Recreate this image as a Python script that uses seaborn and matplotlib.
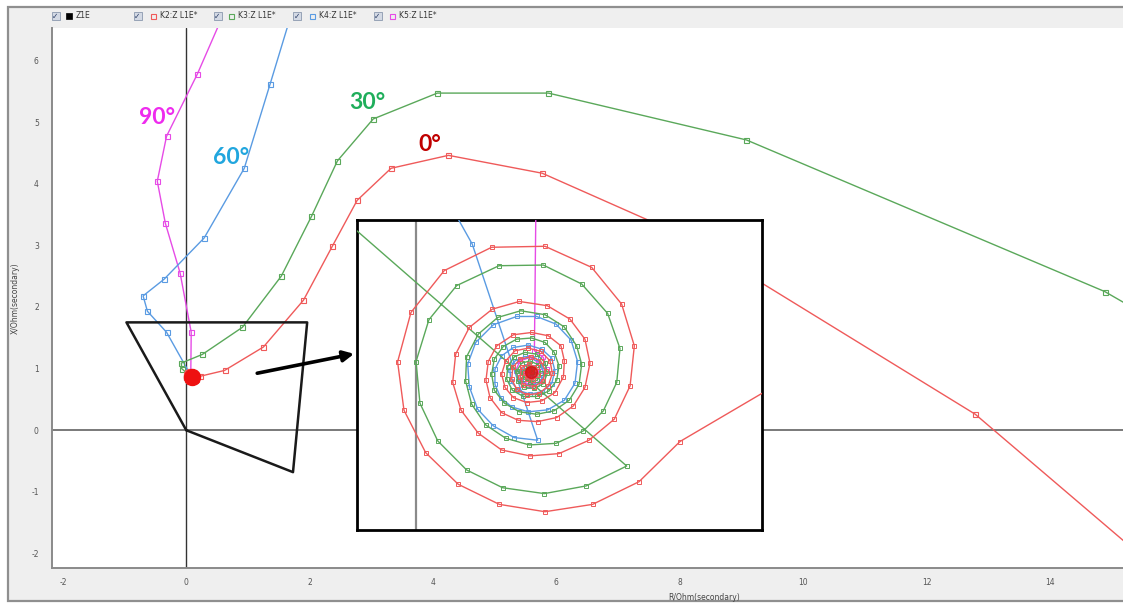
import matplotlib
matplotlib.use("Agg")
import matplotlib.pyplot as plt
from matplotlib.patches import Rectangle
import seaborn as sns

# ---------------- data: impedance trajectories R/X (ohm, secondary) ----------------
# K2 (0 deg): approach path, then the decaying spiral around the fault impedance
k2_path_r = [16.0, 12.79, 8.14, 5.77, 4.25, 3.32, 2.77, 2.37, 1.90, 1.25, 0.62, 0.23]
k2_path_x = [-2.48, 0.26, 3.12, 4.17, 4.46, 4.25, 3.73, 2.99, 2.11, 1.35, 0.97, 0.877]
k2_spiral_r = [0.1620, 0.1369, 0.1084, 0.0792, 0.0512, 0.0260, 0.0060, -0.0073, -0.0112, -0.0030,
               0.0174, 0.0465, 0.0792, 0.1078, 0.1262, 0.1340, 0.1314, 0.1217, 0.1062, 0.0878,
               0.0700, 0.0526, 0.0383, 0.0277, 0.0226, 0.0244, 0.0328, 0.0469, 0.0635, 0.0806,
               0.0945, 0.1037, 0.1068, 0.1037, 0.0966, 0.0864, 0.0747, 0.0628, 0.0526, 0.0455,
               0.0430, 0.0444, 0.0496, 0.0598, 0.0710, 0.0812, 0.0890, 0.0911, 0.0905, 0.0853,
               0.0772, 0.0680, 0.0598, 0.0547, 0.0526, 0.0551, 0.0608, 0.0690, 0.0767, 0.0823,
               0.0837, 0.0812, 0.0755, 0.0680, 0.0618, 0.0588, 0.0594, 0.0639, 0.0704, 0.0765,
               0.0796, 0.0778, 0.0725, 0.0659, 0.0639, 0.0649, 0.0694, 0.0741, 0.0751, 0.0720,
               0.0680, 0.0669, 0.0690, 0.0706]
k2_spiral_x = [0.8371, 0.8125, 0.7986, 0.7941, 0.7986, 0.8109, 0.8303, 0.8563, 0.8859, 0.9162,
               0.9418, 0.9561, 0.9567, 0.9438, 0.9213, 0.8957, 0.8712, 0.8508, 0.8379, 0.8297,
               0.8283, 0.8319, 0.8422, 0.8563, 0.8733, 0.8906, 0.9070, 0.9182, 0.9229, 0.9203,
               0.9121, 0.8998, 0.8851, 0.8702, 0.8589, 0.8518, 0.8493, 0.8501, 0.8548, 0.8640,
               0.8747, 0.8861, 0.8957, 0.9025, 0.9039, 0.9019, 0.8957, 0.8865, 0.8767, 0.8671,
               0.8620, 0.8610, 0.8640, 0.8702, 0.8784, 0.8865, 0.8927, 0.8943, 0.8923, 0.8865,
               0.8788, 0.8712, 0.8665, 0.8657, 0.8692, 0.8753, 0.8825, 0.8876, 0.8890, 0.8865,
               0.8804, 0.8739, 0.8708, 0.8718, 0.8767, 0.8825, 0.8845, 0.8825, 0.8780, 0.8749,
               0.8755, 0.8788, 0.8808, 0.8800]

# K3 (30 deg)
k3_path_r = [16.0, 14.89, 9.08, 5.87, 4.07, 3.03, 2.45, 2.03, 1.54, 0.91, 0.26, -0.08, -0.075]
k3_path_x = [1.61, 2.25, 4.71, 5.47, 5.47, 5.05, 4.37, 3.47, 2.50, 1.67, 1.23, 1.09, 1.00]
k3_spiral_r = [0.1293, 0.1044, 0.0788, 0.0532, 0.0311, 0.0134, 0.0025, 0.0001, 0.0080, 0.0250,
               0.0510, 0.0782, 0.1017, 0.1176, 0.1252, 0.1232, 0.1150, 0.1027, 0.0860, 0.0696,
               0.0551, 0.0428, 0.0342, 0.0305, 0.0311, 0.0383, 0.0502, 0.0643, 0.0792, 0.0909,
               0.0986, 0.1017, 0.1001, 0.0941, 0.0847, 0.0741, 0.0635, 0.0543, 0.0481, 0.0465,
               0.0481, 0.0536, 0.0618, 0.0710, 0.0792, 0.0849, 0.0878, 0.0864, 0.0817, 0.0741,
               0.0659, 0.0592, 0.0557, 0.0563, 0.0604, 0.0669, 0.0741, 0.0792, 0.0806, 0.0782,
               0.0727, 0.0665, 0.0624, 0.0618, 0.0649, 0.0700, 0.0751, 0.0767, 0.0745, 0.0700,
               0.0659, 0.0655, 0.0686, 0.0714, 0.0710]
k3_spiral_x = [0.8221, 0.8099, 0.8052, 0.8088, 0.8197, 0.8375, 0.8606, 0.8861, 0.9117, 0.9326,
               0.9448, 0.9452, 0.9336, 0.9156, 0.8941, 0.8733, 0.8559, 0.8436, 0.8360, 0.8350,
               0.8391, 0.8473, 0.8600, 0.8743, 0.8890, 0.9029, 0.9131, 0.9172, 0.9148, 0.9074,
               0.8957, 0.8845, 0.8722, 0.8624, 0.8559, 0.8538, 0.8553, 0.8606, 0.8685, 0.8784,
               0.8876, 0.8953, 0.8998, 0.9005, 0.8978, 0.8917, 0.8835, 0.8747, 0.8681, 0.8647,
               0.8647, 0.8685, 0.8753, 0.8829, 0.8890, 0.8917, 0.8906, 0.8855, 0.8788, 0.8726,
               0.8696, 0.8702, 0.8743, 0.8804, 0.8851, 0.8865, 0.8841, 0.8792, 0.8747, 0.8733,
               0.8757, 0.8800, 0.8825, 0.8814, 0.8794]

# K4 (60 deg)
k4_path_r = [1.93, 1.36, 0.94, 0.29, -0.36, -0.70, -0.63, -0.32, 0.0346]
k4_path_x = [7.50, 5.62, 4.25, 3.12, 2.45, 2.18, 1.93, 1.59, 0.958]
k4_spiral_r = [0.0747, 0.0604, 0.0475, 0.0379, 0.0328, 0.0318, 0.0367, 0.0475, 0.0618, 0.0741,
               0.0860, 0.0952, 0.0992, 0.0976, 0.0911, 0.0808, 0.0690, 0.0588, 0.0520, 0.0485,
               0.0485, 0.0526, 0.0598, 0.0690, 0.0772, 0.0833, 0.0853, 0.0833, 0.0776, 0.0700,
               0.0628, 0.0583, 0.0577, 0.0608, 0.0669, 0.0735, 0.0778, 0.0782, 0.0745, 0.0686,
               0.0643, 0.0639, 0.0673, 0.0720, 0.0731, 0.0700]
k4_spiral_x = [0.8379, 0.8395, 0.8467, 0.8569, 0.8706, 0.8845, 0.8978, 0.9086, 0.9137, 0.9137,
               0.9090, 0.8992, 0.8861, 0.8728, 0.8624, 0.8565, 0.8553, 0.8583, 0.8640, 0.8722,
               0.8814, 0.8896, 0.8947, 0.8962, 0.8937, 0.8882, 0.8804, 0.8726, 0.8677, 0.8661,
               0.8685, 0.8739, 0.8808, 0.8865, 0.8892, 0.8882, 0.8835, 0.8769, 0.8722, 0.8712,
               0.8747, 0.8800, 0.8835, 0.8825, 0.8784, 0.8767]

# K5 (90 deg)
k5_path_r = [0.93, 0.18, -0.32, -0.47, -0.34, -0.10, 0.08]
k5_path_x = [7.50, 5.78, 4.77, 4.04, 3.36, 2.55, 1.59]
k5_spiral_r = [0.0727, 0.0782, 0.0802, 0.0772, 0.0706, 0.0639, 0.0612, 0.0639, 0.0700, 0.0751,
               0.0761, 0.0731, 0.0686, 0.0665, 0.0686, 0.0710, 0.0702]
k5_spiral_x = [0.8927, 0.8886, 0.8814, 0.8743, 0.8718, 0.8743, 0.8804, 0.8865, 0.8886, 0.8855,
               0.8800, 0.8759, 0.8759, 0.8794, 0.8825, 0.8812, 0.8796]

# Z1E quadrilateral zone characteristic
z1e_r = [0.0, -0.97, 1.96, 1.73, 0.0]
z1e_x = [0.0, 1.75, 1.75, -0.68, 0.0]

fault_r, fault_x = 0.085, 0.870

legend_labels = ["Z1E", "K2:Z L1E*", "K3:Z L1E*", "K4:Z L1E*", "K5:Z L1E*"]
angle_labels = ["0°", "30°", "60°", "90°"]

x_ticks = [-2, 0, 2, 4, 6, 8, 10, 12, 14]
y_ticks = [-2, -1, 0, 1, 2, 3, 4, 5, 6]

# ---------------- styling ----------------
sns.set_style("white")
plt.rcParams["font.family"] = ["DejaVu Sans"]

W, H = 1123, 603
line_colors = ["#ef5a5a", "#5aa85a", "#5a9be2", "#e64be6"]
label_colors = ["#c00000", "#1fae5b", "#21a6de", "#ee2bee"]

series = [
    (k2_path_r + k2_spiral_r, k2_path_x + k2_spiral_x),
    (k3_path_r + k3_spiral_r, k3_path_x + k3_spiral_x),
    (k4_path_r + k4_spiral_r, k4_path_x + k4_spiral_x),
    (k5_path_r + k5_spiral_r, k5_path_x + k5_spiral_x),
]
# draw order: magenta, blue, green, red on top
draw_order = [3, 2, 1, 0]

fig = plt.figure(figsize=(W / 100, H / 100), dpi=100, facecolor="white")


def fx(px):
    return px / W


def fy(py):
    return 1 - py / H


# window frame and legend strip
fig.add_artist(Rectangle((fx(8), fy(601)), 1.0, fy(7) - fy(601), transform=fig.transFigure,
                         facecolor="#efefef", edgecolor="#8f8f8f", lw=1.6, zorder=0))

ax = fig.add_axes([fx(52), fy(568), fx(1123) - fx(52), fy(28) - fy(568)])
ax.set_facecolor("white")


def draw_series(a, ms, mew):
    for i in draw_order:
        r, x = series[i]
        c = line_colors[i]
        sns.lineplot(x=r, y=x, ax=a, sort=False, estimator=None, color=c, lw=1.0,
                     marker="s", markersize=ms, markerfacecolor="none",
                     markeredgecolor=c, markeredgewidth=mew, zorder=3 + (3 - i))


# axes cross
ax.axvline(0, color="#333333", lw=1.0, zorder=2)
ax.axhline(0, color="#555555", lw=1.1, zorder=2)

draw_series(ax, 3.6, 0.8)

# zone characteristic
sns.lineplot(x=z1e_r, y=z1e_x, ax=ax, sort=False, estimator=None, color="#1a1a1a",
             lw=1.8, zorder=8)

# fault impedance end point
ax.plot([fault_r], [fault_x], "o", color="#ee1111", ms=11.5, zorder=10)

ax.set_xlim(-2.177, 15.186)
ax.set_ylim(-2.235, 6.526)
ax.set_xticks(x_ticks)
ax.set_yticks(y_ticks)
ax.set_xticklabels([str(t) for t in x_ticks])
ax.set_yticklabels([str(t) for t in y_ticks])
ax.tick_params(axis="both", which="major", labelsize=5.5, labelcolor="#555555",
               color="#666666", length=2.5, width=0.8, direction="out")
ax.tick_params(axis="x", pad=5)
ax.tick_params(axis="y", pad=7)
for s in ["top", "right"]:
    ax.spines[s].set_visible(False)
for s in ["left", "bottom"]:
    ax.spines[s].set_color("#8a8a8a")
    ax.spines[s].set_linewidth(1.4)

ax.set_xlabel("R/Ohm(secondary)", fontsize=5.5, color="#444444")
ax.set_ylabel("X/Ohm(secondary)", fontsize=5.5, color="#444444")
ax.xaxis.set_label_coords((704 - 52) / 1071, -0.046)
ax.yaxis.set_label_coords(-0.030, 0.5)

# angle labels
label_pos = [(3.94, 4.64), (2.94, 5.31), (0.72, 4.43), (-0.48, 5.08)]
for txt, (lr, lx), col in zip(angle_labels, label_pos, label_colors):
    ax.text(lr, lx, txt, color=col, fontsize=16.5, fontweight="bold",
            family=["Lato", "DejaVu Sans"], ha="center", va="center", zorder=12)

# arrow pointing to the zoomed view
ax.annotate("", xy=(2.72, 1.24), xytext=(1.15, 0.925),
            arrowprops=dict(arrowstyle="-|>", color="black", lw=2.6,
                            mutation_scale=16, shrinkA=0, shrinkB=0), zorder=12)

# ---------------- zoomed inset around the fault impedance ----------------
axin = fig.add_axes([fx(357), fy(530), fx(762) - fx(357), fy(220) - fy(530)])
axin.set_facecolor("white")
axin.axvline(0, color="#8a8a8a", lw=1.6, zorder=2)
draw_series(axin, 3.0, 0.7)
axin.plot([0.0705], [0.8795], "o", color="#d81414", ms=8.5, alpha=0.85, zorder=10)
axin.set_xlim(-0.0361, 0.2123)
axin.set_ylim(0.7829, 0.9728)
axin.set_xticks([])
axin.set_yticks([])
axin.set_xlabel("")
axin.set_ylabel("")
for s in axin.spines.values():
    s.set_visible(True)
    s.set_color("black")
    s.set_linewidth(2.0)

# ---------------- legend strip with check boxes ----------------
box_cx = [55.5, 137.5, 217.5, 297, 377.5]
mark_cx = [69, 153, 231, 312, 392]
text_x = [76, 160, 238, 319, 399]
mark_colors = ["black"] + line_colors
cy = 16
for i, lab in enumerate(legend_labels):
    fig.add_artist(Rectangle((fx(box_cx[i] - 4), fy(cy + 4)), 8 / W, 8 / H,
                             transform=fig.transFigure, facecolor="#d3d9e4",
                             edgecolor="#8a98ae", lw=0.6, zorder=5))
    fig.text(fx(box_cx[i]), fy(cy), "✓", fontsize=5.5, color="#2b3d66",
             ha="center", va="center", zorder=6)
    if i == 0:
        fig.add_artist(Rectangle((fx(mark_cx[i] - 3), fy(cy + 3)), 6 / W, 6 / H,
                                 transform=fig.transFigure, facecolor="black",
                                 edgecolor="black", lw=0.5, zorder=5))
    else:
        fig.add_artist(Rectangle((fx(mark_cx[i] - 2.5), fy(cy + 2.5)), 5 / W, 5 / H,
                                 transform=fig.transFigure, facecolor="none",
                                 edgecolor=mark_colors[i], lw=0.8, zorder=5))
    fig.text(fx(text_x[i]), fy(cy), lab, fontsize=5.5, color="#333333",
             ha="left", va="center", zorder=6)

fig.savefig("out.png", dpi=100, facecolor="white")
